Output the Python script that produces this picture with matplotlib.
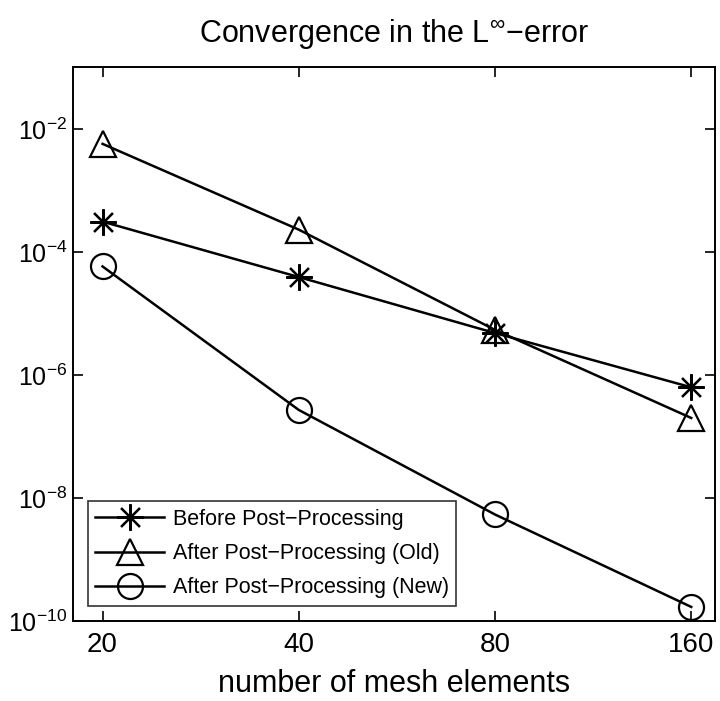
import matplotlib
matplotlib.use("Agg")
import matplotlib.pyplot as plt
from matplotlib.ticker import FixedLocator, NullLocator, FixedFormatter

# mesh sizes and L-infinity errors
elements = [20, 40, 80, 160]
err_before = [3.1e-4, 3.9e-5, 4.8e-6, 6.3e-7]
err_old = [5.7e-3, 2.3e-4, 5.4e-6, 2.0e-7]
err_new = [5.8e-5, 2.7e-7, 5.4e-9, 1.7e-10]

labels = ["Before Post\u2212Processing",
          "After Post\u2212Processing (Old)",
          "After Post\u2212Processing (New)"]
yticks = [1e-10, 1e-8, 1e-6, 1e-4, 1e-2]

plt.rcParams['font.family'] = ['Liberation Sans', 'DejaVu Sans']
plt.rcParams['mathtext.fontset'] = 'custom'
plt.rcParams['mathtext.rm'] = 'Liberation Sans'
plt.rcParams['mathtext.it'] = 'Liberation Sans'

fig = plt.figure(figsize=(7.2, 7.01), dpi=100)
ax = fig.add_axes([0.101, 0.114, 0.892, 0.790])

mk = dict(color="k", lw=1.8, markerfacecolor="none", markeredgecolor="k", markeredgewidth=1.6)
ax.plot(elements, err_before, marker=(8, 2, 0), markersize=19, label=labels[0], **mk)
ax.plot(elements, err_old, marker="^", markersize=19, label=labels[1], **mk)
ax.plot(elements, err_new, marker="o", markersize=18, label=labels[2], **mk)

ax.set_xscale("log")
ax.set_yscale("log")
ax.set_xlim(18, 174)
ax.set_ylim(1e-10, 1e-1)

ax.xaxis.set_major_locator(FixedLocator(elements))
ax.xaxis.set_major_formatter(FixedFormatter([str(e) for e in elements]))
ax.xaxis.set_minor_locator(NullLocator())
ax.yaxis.set_major_locator(FixedLocator(yticks))
ax.yaxis.set_minor_locator(NullLocator())

ax.tick_params(which="both", direction="in", top=True, right=True, length=7, width=1.2)
ax.tick_params(axis="x", labelsize=20, pad=8)
ax.tick_params(axis="y", labelsize=18, pad=4)
for s in ax.spines.values():
    s.set_linewidth(1.4)

ax.set_xlabel("number of mesh elements", fontsize=22, labelpad=8)
ax.set_title("Convergence in the L$^{\\infty}$\u2212error", fontsize=22, pad=18)

leg = ax.legend(loc="lower left", fontsize=15.5, frameon=True, fancybox=False,
                edgecolor="k", borderpad=0.35, handlelength=3.2, handletextpad=0.4,
                labelspacing=0.62, borderaxespad=0.7)
leg.get_frame().set_linewidth(1.2)

fig.savefig("out.png", dpi=100)
